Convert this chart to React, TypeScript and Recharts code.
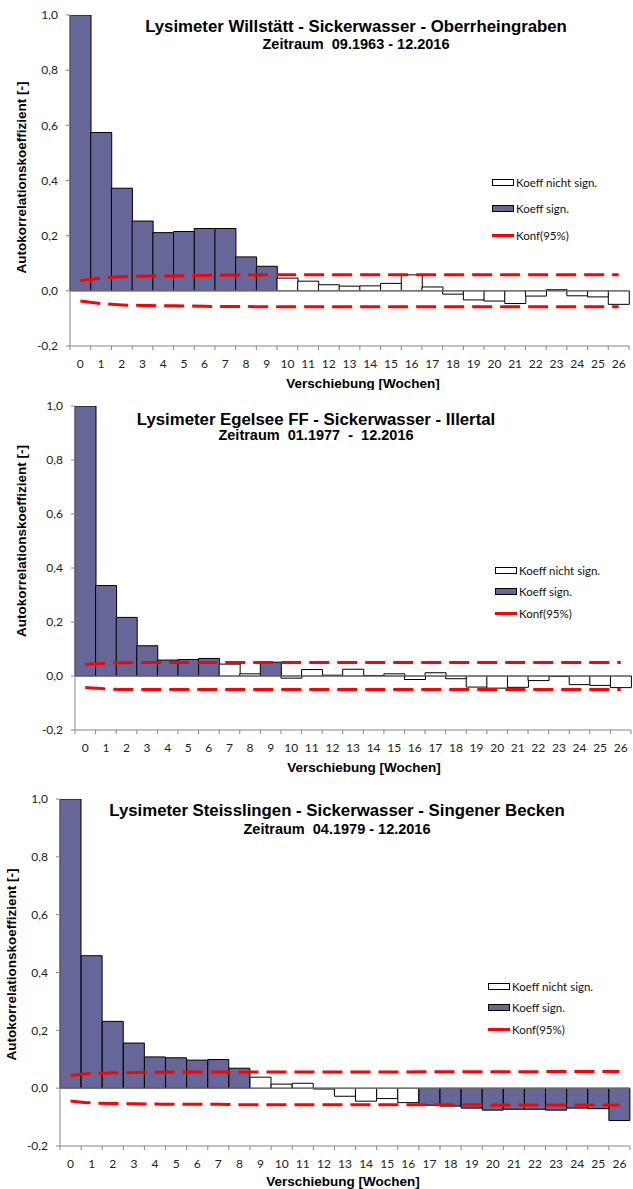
import React from "react";
import {
  Bar,
  Cell,
  ComposedChart,
  Legend,
  Line,
  ReferenceLine,
  XAxis,
  YAxis,
} from "recharts";

// Lag categories (weeks)
const LAGS = [
  "0", "1", "2", "3", "4", "5", "6", "7", "8", "9", "10", "11", "12", "13",
  "14", "15", "16", "17", "18", "19", "20", "21", "22", "23", "24", "25", "26",
];

const Y_TICKS = [-0.2, 0, 0.2, 0.4, 0.6, 0.8, 1.0];

// Willstätt
const WILL_ACF = [
  1.0, 0.574, 0.372, 0.253, 0.211, 0.215, 0.226, 0.226, 0.123, 0.089, 0.046,
  0.035, 0.022, 0.017, 0.018, 0.027, 0.058, 0.014, -0.012, -0.033, -0.037,
  -0.046, -0.019, 0.004, -0.018, -0.022, -0.049,
];
const WILL_SIG = [
  1, 1, 1, 1, 1, 1, 1, 1, 1, 1, 0, 0, 0, 0, 0, 0, 0, 0, 0, 0, 0, 0, 0, 0, 0, 0, 0,
];
const WILL_UP = [
  0.037, 0.046, 0.051, 0.053, 0.054, 0.055, 0.056, 0.057, 0.057, 0.058, 0.058,
  0.058, 0.058, 0.058, 0.058, 0.058, 0.058, 0.058, 0.058, 0.058, 0.058, 0.058,
  0.058, 0.058, 0.058, 0.058, 0.058,
];
const WILL_LO = [
  -0.037, -0.046, -0.051, -0.053, -0.054, -0.055, -0.056, -0.057, -0.057,
  -0.058, -0.058, -0.058, -0.058, -0.058, -0.058, -0.058, -0.058, -0.058,
  -0.058, -0.058, -0.058, -0.058, -0.058, -0.058, -0.058, -0.058, -0.058,
];

// Egelsee
const EGEL_ACF = [
  1.0, 0.335, 0.217, 0.112, 0.059, 0.061, 0.065, 0.044, 0.008, 0.051, -0.008,
  0.024, 0.003, 0.025, 0.002, 0.008, -0.013, 0.012, -0.01, -0.041, -0.045,
  -0.042, -0.017, -0.002, -0.032, -0.035, -0.043,
];
const EGEL_SIG = [
  1, 1, 1, 1, 1, 1, 1, 0, 0, 1, 0, 0, 0, 0, 0, 0, 0, 0, 0, 0, 0, 0, 0, 0, 0, 0, 0,
];
const EGEL_UP = [
  0.043, 0.047, 0.049, 0.05, 0.05, 0.05, 0.05, 0.05, 0.05, 0.05, 0.05, 0.05,
  0.05, 0.05, 0.05, 0.05, 0.05, 0.05, 0.05, 0.05, 0.05, 0.05, 0.05, 0.05, 0.05,
  0.05, 0.05,
];
const EGEL_LO = [
  -0.043, -0.048, -0.05, -0.05, -0.05, -0.05, -0.05, -0.05, -0.05, -0.05,
  -0.05, -0.05, -0.05, -0.05, -0.05, -0.05, -0.05, -0.05, -0.05, -0.05, -0.05,
  -0.05, -0.05, -0.05, -0.05, -0.05, -0.05,
];

// Steisslingen
const STEI_ACF = [
  1.0, 0.458, 0.231, 0.156, 0.108, 0.105, 0.097, 0.099, 0.069, 0.038, 0.014,
  0.017, -0.003, -0.028, -0.045, -0.036, -0.05, -0.059, -0.062, -0.069, -0.076,
  -0.073, -0.073, -0.076, -0.069, -0.071, -0.112,
];
const STEI_SIG = [
  1, 1, 1, 1, 1, 1, 1, 1, 1, 0, 0, 0, 0, 0, 0, 0, 0, 1, 1, 1, 1, 1, 1, 1, 1, 1, 1,
];
const STEI_UP = [
  0.044, 0.051, 0.053, 0.054, 0.055, 0.056, 0.056, 0.056, 0.056, 0.056, 0.056,
  0.056, 0.056, 0.056, 0.056, 0.056, 0.056, 0.057, 0.057, 0.057, 0.057, 0.057,
  0.057, 0.058, 0.058, 0.058, 0.058,
];
const STEI_LO = [
  -0.044, -0.051, -0.053, -0.054, -0.055, -0.056, -0.056, -0.056, -0.057,
  -0.057, -0.057, -0.057, -0.057, -0.057, -0.057, -0.057, -0.057, -0.057,
  -0.057, -0.057, -0.058, -0.058, -0.058, -0.058, -0.058, -0.058, -0.058,
];

const SIG_FILL = "#666699";
const AXIS_GREY = "#868686";
const TICK_FONT = "Lato, 'Open Sans', sans-serif";
const TITLE_FONT = "'Liberation Sans', Arial, sans-serif";
const W = 633;

const CHARTS = [
  {
    id: "will",
    title: "Lysimeter Willstätt - Sickerwasser - Oberrheingraben",
    period: "Zeitraum  09.1963 - 12.2016",
    acf: WILL_ACF, sig: WILL_SIG, up: WILL_UP, lo: WILL_LO,
    top: 0, height: 390, mTop: 15, mRight: 4, yAxisW: 70, xAxisH: 44,
    titleX: 356, titleY: 27, periodY: 44,
    yTitleX: 21, yTitleShift: -3, xTitleX: 363, xTitleDy: 37,
    legendX: 492, legendY: 182, legendGap: 26.5,
  },
  {
    id: "egel",
    title: "Lysimeter Egelsee FF - Sickerwasser - Illertal",
    period: "Zeitraum  01.1977  -  12.2016",
    acf: EGEL_ACF, sig: EGEL_SIG, up: EGEL_UP, lo: EGEL_LO,
    top: 390, height: 390, mTop: 16, mRight: 2, yAxisW: 75, xAxisH: 50,
    titleX: 316, titleY: 30, periodY: 45,
    yTitleX: 21, yTitleShift: -27, xTitleX: 364, xTitleDy: 37,
    legendX: 495, legendY: 180, legendGap: 21.5,
  },
  {
    id: "stei",
    title: "Lysimeter Steisslingen - Sickerwasser - Singener Becken",
    period: "Zeitraum  04.1979 - 12.2016",
    acf: STEI_ACF, sig: STEI_SIG, up: STEI_UP, lo: STEI_LO,
    top: 780, height: 409, mTop: 19, mRight: 3, yAxisW: 60, xAxisH: 43,
    titleX: 337, titleY: 31, periodY: 49,
    yTitleX: 11, yTitleShift: -8, xTitleX: 343, xTitleDy: 35.5,
    legendX: 488, legendY: 206, legendGap: 21.5,
  },
];

type Cfg = (typeof CHARTS)[number];

const fmt = (v: number) => v.toFixed(1).replace(".", ",");

function AcfLegend({ cfg }: { cfg: Cfg }) {
  const row = (swatch: React.ReactNode, text: string) => (
    <div
      style={{
        height: cfg.legendGap,
        display: "flex",
        alignItems: "center",
        fontFamily: TICK_FONT,
        fontSize: 11.5,
        color: "#111",
        whiteSpace: "nowrap",
      }}
    >
      {swatch}
      <span style={{ marginLeft: 2 }}>{text}</span>
    </div>
  );
  const box = (fill: string) => (
    <span
      style={{
        display: "inline-block",
        width: 20,
        height: 5,
        background: fill,
        border: "1px solid #000",
      }}
    />
  );
  return (
    <div>
      {row(box("#fff"), "Koeff nicht sign.")}
      {row(box(SIG_FILL), "Koeff sign.")}
      {row(
        <span
          style={{ display: "inline-block", width: 22, height: 3, background: "#ff0000" }}
        />,
        "Konf(95%)"
      )}
    </div>
  );
}

function AcfChart({ cfg }: { cfg: Cfg }) {
  const data = LAGS.map((lag, i) => ({
    lag,
    acf: cfg.acf[i],
    sig: cfg.sig[i],
    up: cfg.up[i],
    lo: cfg.lo[i],
  }));
  const plotW = W - cfg.yAxisW - cfg.mRight;
  const halfBand = plotW / LAGS.length / 2;
  const lastLag = LAGS[LAGS.length - 1];

  const XTick = (props: any) => {
    const { x, y, payload } = props;
    return (
      <g>
        <line x1={x - halfBand} x2={x - halfBand} y1={y} y2={y + 4} stroke={AXIS_GREY} />
        {payload.value === lastLag && (
          <line x1={x + halfBand} x2={x + halfBand} y1={y} y2={y + 4} stroke={AXIS_GREY} />
        )}
        <text
          x={x}
          y={y + 17.5}
          textAnchor="middle"
          dominantBaseline="central"
          fontSize={12}
          fontFamily={TICK_FONT}
          fill="#222"
        >
          {payload.value}
        </text>
      </g>
    );
  };

  const YTitle = (props: any) => {
    const vb = props.viewBox || {};
    const cy = (vb.y ?? 0) + (vb.height ?? 0) / 2 + cfg.yTitleShift;
    return (
      <text
        x={cfg.yTitleX}
        y={cy}
        transform={`rotate(-90, ${cfg.yTitleX}, ${cy})`}
        textAnchor="middle"
        dominantBaseline="central"
        fontSize={13.5}
        fontWeight="bold"
        fontFamily={TITLE_FONT}
        fill="#000"
      >
        Autokorrelationskoeffizient [-]
      </text>
    );
  };

  const XTitle = (props: any) => {
    const vb = props.viewBox || {};
    return (
      <text
        x={cfg.xTitleX}
        y={(vb.y ?? 0) + cfg.xTitleDy}
        textAnchor="middle"
        dominantBaseline="central"
        fontSize={13.5}
        fontWeight="bold"
        fontFamily={TITLE_FONT}
        fill="#000"
      >
        Verschiebung [Wochen]
      </text>
    );
  };

  return (
    <div
      style={{
        position: "absolute",
        left: 0,
        top: cfg.top,
        width: W,
        height: cfg.height,
      }}
    >
      <ComposedChart
        width={W}
        height={cfg.height}
        data={data}
        barCategoryGap={0}
        barGap={0}
        margin={{ top: cfg.mTop, right: cfg.mRight, bottom: 0, left: 0 }}
      >
        <XAxis
          dataKey="lag"
          height={cfg.xAxisH}
          stroke={AXIS_GREY}
          tickLine={false}
          tickSize={0}
          tickMargin={0}
          interval={0}
          tick={XTick}
          label={XTitle}
        />
        <YAxis
          width={cfg.yAxisW}
          domain={[-0.2, 1.0]}
          ticks={Y_TICKS}
          tickFormatter={fmt}
          allowDataOverflow
          stroke={AXIS_GREY}
          tickSize={4}
          tickMargin={8}
          tick={{ fontSize: 12, fontFamily: TICK_FONT, fill: "#222" }}
          label={YTitle}
        />
        <ReferenceLine y={0} stroke={AXIS_GREY} />
        <Bar dataKey="acf" stroke="#000" strokeWidth={1} isAnimationActive={false}>
          {data.map((d) => (
            <Cell key={d.lag} fill={d.sig ? SIG_FILL : "#ffffff"} />
          ))}
        </Bar>
        <Line
          dataKey="up"
          type="monotone"
          stroke="#ff0000"
          strokeWidth={3}
          strokeDasharray="20 8"
          dot={false}
          activeDot={false}
          isAnimationActive={false}
        />
        <Line
          dataKey="lo"
          type="monotone"
          stroke="#ff0000"
          strokeWidth={3}
          strokeDasharray="20 8"
          dot={false}
          activeDot={false}
          isAnimationActive={false}
        />
        <Legend
          layout="vertical"
          align="center"
          verticalAlign="middle"
          content={() => <AcfLegend cfg={cfg} />}
          wrapperStyle={{
            left: cfg.legendX,
            top: cfg.legendY - cfg.legendGap / 2,
            width: 140,
            height: "auto",
          }}
        />
      </ComposedChart>
      <div
        style={{
          position: "absolute",
          left: 0,
          width: cfg.titleX * 2,
          top: cfg.titleY - 9,
          lineHeight: "18px",
          textAlign: "center",
          fontFamily: TITLE_FONT,
          fontWeight: "bold",
          fontSize: 16.8,
          whiteSpace: "pre",
          pointerEvents: "none",
        }}
      >
        {cfg.title}
      </div>
      <div
        style={{
          position: "absolute",
          left: 0,
          width: cfg.titleX * 2,
          top: cfg.periodY - 8,
          lineHeight: "16px",
          textAlign: "center",
          fontFamily: TITLE_FONT,
          fontWeight: "bold",
          fontSize: 14.5,
          whiteSpace: "pre",
          pointerEvents: "none",
        }}
      >
        {cfg.period}
      </div>
    </div>
  );
}

export default function App() {
  return (
    <div
      style={{
        position: "absolute",
        left: 0,
        top: 0,
        width: W,
        height: 1189,
        background: "#fff",
        overflow: "hidden",
      }}
    >
      {CHARTS.map((c) => (
        <AcfChart key={c.id} cfg={c} />
      ))}
    </div>
  );
}
